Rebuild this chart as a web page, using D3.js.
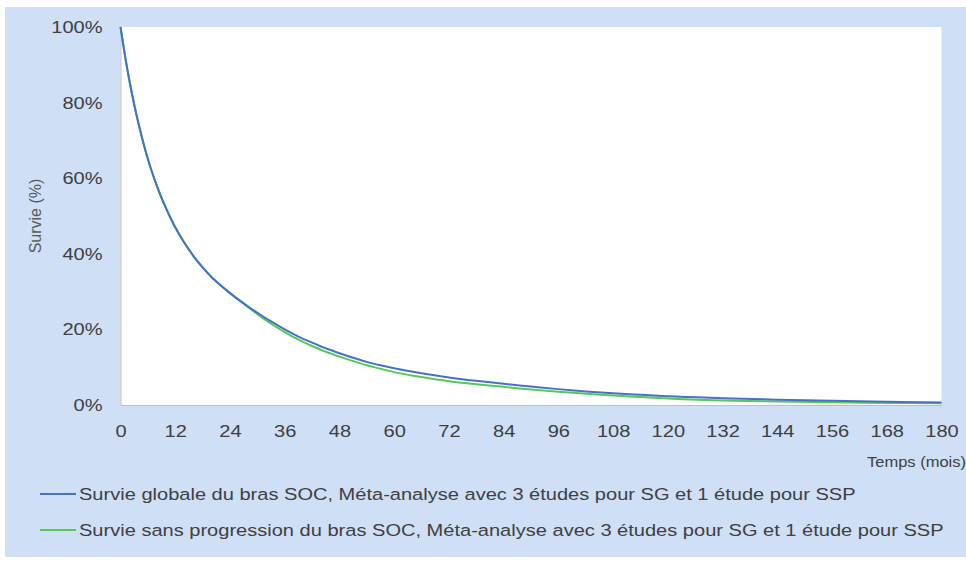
<!DOCTYPE html>
<html>
<head>
<meta charset="utf-8">
<script src="https://cdn.jsdelivr.net/npm/d3@7"></script>
<style>
  html, body { margin: 0; padding: 0; background: #ffffff; }
  svg { display: block; font-family: "Liberation Sans", Arial, sans-serif; }
</style>
</head>
<body>
<svg id="chart" width="966" height="562"></svg>
<script>
// Time points (months)
const months = [0, 1, 2, 3, 4, 5, 6, 7, 8, 9, 10, 11, 12, 14, 16, 18, 20, 22, 24, 27, 30, 33, 36,
                39, 42, 45, 48, 51, 54, 57, 60, 66, 72, 78, 84, 90, 96, 102, 108, 114, 120,
                132, 144, 156, 168, 180];
// Overall survival (SG), SOC arm, %
const survieGlobale = [100, 92.3, 85.5, 79.5, 74.2, 69.4, 65.1, 61.3, 57.9, 54.8, 52.0, 49.4, 47.0,
                       42.9, 39.4, 36.4, 33.8, 31.6, 29.6, 26.9, 24.4, 22.1, 20.0, 18.1, 16.5, 15.0,
                       13.7, 12.5, 11.4, 10.5, 9.7, 8.4, 7.3, 6.4, 5.6, 4.9, 4.2, 3.6, 3.1, 2.7, 2.3,
                       1.8, 1.4, 1.1, 0.85, 0.65];
// Progression-free survival (SSP), SOC arm, %
const survieSansProg = [100, 92.3, 85.5, 79.5, 74.2, 69.4, 65.1, 61.3, 57.9, 54.8, 52.0, 49.4, 47.0,
                        42.9, 39.4, 36.4, 33.8, 31.6, 29.6, 26.8, 24.0, 21.5, 19.3, 17.3, 15.6, 14.1,
                        12.8, 11.6, 10.5, 9.6, 8.7, 7.4, 6.3, 5.5, 4.8, 4.1, 3.5, 3.0, 2.5, 2.1, 1.7,
                        1.2, 0.9, 0.7, 0.55, 0.45];
const xTicks = d3.range(0, 181, 12);
const yTicks = [0, 20, 40, 60, 80, 100];
const seriesNames = [
  "Survie globale du bras SOC, Méta-analyse avec 3 études pour SG et 1 étude pour SSP",
  "Survie sans progression du bras SOC, Méta-analyse avec 3 études pour SG et 1 étude pour SSP"
];
const seriesColors = ["#4472c4", "#55c955"];

// Text in this chart is set slightly wide
const SX = 1.18;

const svg = d3.select("#chart");

// Panel background
svg.append("rect").attr("x", 5).attr("y", 7).attr("width", 961).attr("height", 550)
  .attr("fill", "#cfdff6");

const plot = { left: 120.5, right: 941.5, top: 27, bottom: 405 };
svg.append("rect").attr("x", plot.left).attr("y", plot.top)
  .attr("width", plot.right - plot.left).attr("height", plot.bottom - plot.top)
  .attr("fill", "#ffffff");

const x = d3.scaleLinear().domain([0, 180]).range([plot.left, plot.right]);
const y = d3.scaleLinear().domain([0, 100]).range([plot.bottom, plot.top]);

// Axes
const xAxis = svg.append("g").attr("transform", `translate(0,${plot.bottom})`)
  .call(d3.axisBottom(x).tickValues(xTicks).tickSize(0).tickPadding(20).tickFormat(d3.format("d")));
const yAxis = svg.append("g").attr("transform", `translate(${plot.left},0)`)
  .call(d3.axisLeft(y).tickValues(yTicks).tickSize(0).tickPadding(18).tickFormat(d => d + "%"));
[xAxis, yAxis].forEach(g => {
  g.select(".domain").attr("stroke", "#bfbfbf").attr("stroke-width", 1);
  g.selectAll("text").attr("fill", "#404040").style("font-size", "17px")
    .style("font-family", "'Liberation Sans', Arial, sans-serif")
    .each(function () {
      const t = d3.select(this);
      const tx = +t.attr("x") || 0;
      t.attr("x", tx / SX).attr("transform", `scale(${SX},1)`);
    });
});

// Axis titles
svg.append("text").attr("transform", `translate(966,467) scale(${SX},1)`).attr("text-anchor", "end")
  .attr("fill", "#404040").style("font-size", "14px").text("Temps (mois)");
svg.append("text").attr("transform", "translate(41,216) rotate(-90)").attr("text-anchor", "middle")
  .attr("fill", "#595959").style("font-size", "16px").text("Survie (%)");

// Curves
const line = d3.line().x(d => x(d[0])).y(d => y(d[1])).curve(d3.curveMonotoneX);
[[survieSansProg, 1], [survieGlobale, 0]].forEach(([vals, idx]) => {
  svg.append("path")
    .datum(months.map((m, k) => [m, vals[k]]))
    .attr("fill", "none").attr("stroke", seriesColors[idx]).attr("stroke-width", 2)
    .attr("d", line);
});

// Legend
const legendY = [494, 530];
seriesNames.forEach((name, i) => {
  svg.append("line").attr("x1", 40).attr("x2", 76).attr("y1", legendY[i]).attr("y2", legendY[i])
    .attr("stroke", seriesColors[i]).attr("stroke-width", 2);
  svg.append("text").attr("transform", `translate(79,${legendY[i] + 6}) scale(${SX},1)`)
    .attr("fill", "#404040").style("font-size", "17px").text(name);
});
</script>
</body>
</html>
